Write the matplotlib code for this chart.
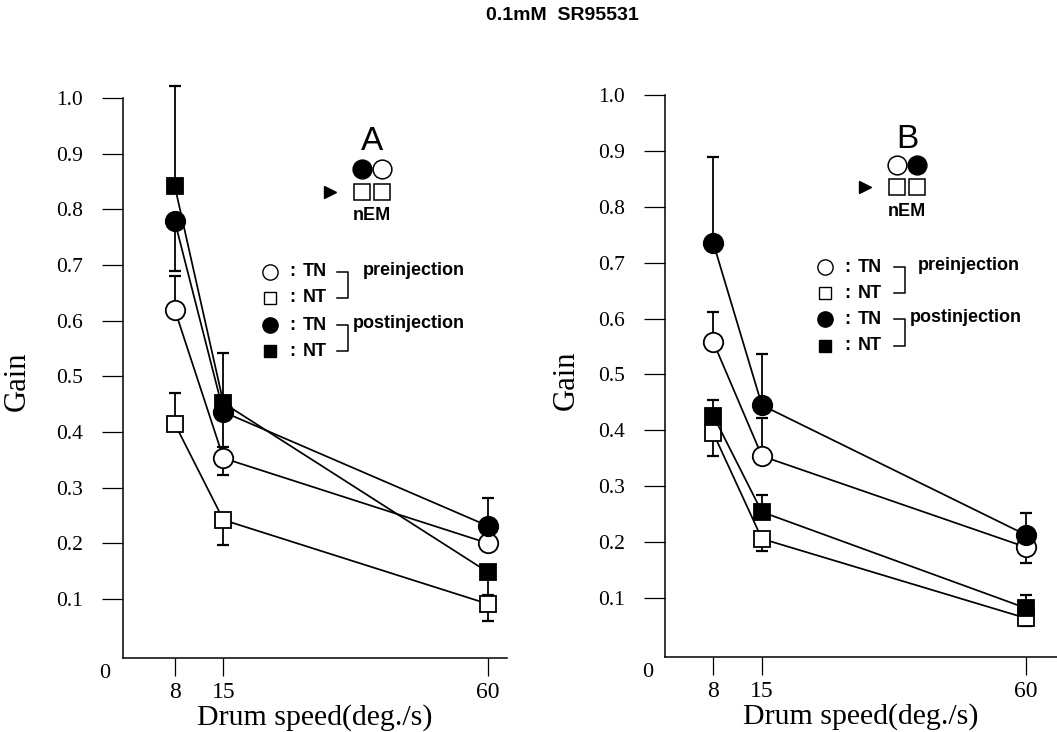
import numpy as np
import matplotlib.pyplot as plt
from matplotlib.lines import Line2D

W, H = 1057, 732

speeds = [8, 15, 60]
gain_ticks = [0.1, 0.2, 0.3, 0.4, 0.5, 0.6, 0.7, 0.8, 0.9, 1.0]

# panel A  (err > 0 : bar drawn upward, err < 0 : downward)
a_pre_tn = [0.620, 0.353, 0.200]
a_pre_tn_err = [0.060, -0.030, 0.0]
a_pre_nt = [0.415, 0.242, 0.091]
a_pre_nt_err = [0.055, -0.045, -0.030]
a_post_tn = [0.779, 0.436, 0.231]
a_post_tn_err = [-0.090, -0.063, 0.050]
a_post_nt = [0.842, 0.452, 0.148]
a_post_nt_err = [0.180, 0.090, -0.040]

# panel B
b_pre_tn = [0.558, 0.354, 0.191]
b_pre_tn_err = [0.054, 0.068, -0.028]
b_pre_nt = [0.395, 0.206, 0.064]
b_pre_nt_err = [-0.041, -0.022, -0.014]
b_post_tn = [0.735, 0.445, 0.213]
b_post_tn_err = [0.154, 0.091, 0.039]
b_post_nt = [0.426, 0.254, 0.082]
b_post_nt_err = [0.028, 0.030, 0.023]

legend_labels = ['TN', 'NT', 'TN', 'NT']
legend_markers = ['o', 's', 'o', 's']
legend_faces = ['white', 'white', 'black', 'black']
group_labels = ['preinjection', 'postinjection']

SERIF = 'Liberation Serif'
SANS = 'Liberation Sans'


def fwd(x):
    x = np.asarray(x, dtype=float)
    return np.where(x <= 15, x, 15 + (x - 15) * 0.845)


def inv(y):
    y = np.asarray(y, dtype=float)
    return np.where(y <= 15, y, 15 + (y - 15) / 0.845)


def fx(px):
    return px / W


def fy(py):
    return 1 - py / H


def draw_series(ax, y, err, marker, face, ms):
    y = np.asarray(y)
    err = np.asarray(err)
    lower = np.where(err < 0, -err, 0)
    upper = np.where(err > 0, err, 0)
    ax.errorbar(speeds, y, yerr=[lower, upper], fmt='none', ecolor='black',
                elinewidth=1.3, capsize=4.5, capthick=1.6, zorder=2, clip_on=False)
    ax.plot(speeds, y, color='black', lw=1.25, marker=marker, ms=ms, mfc=face,
            mec='black', mew=1.3, zorder=3, clip_on=False)


def setup_axes(ax, xlim, ylim):
    ax.set_xscale('function', functions=(fwd, inv))
    ax.set_xlim(*xlim)
    ax.set_ylim(*ylim)
    ax.spines['top'].set_visible(False)
    ax.spines['right'].set_visible(False)
    ax.spines['left'].set_linewidth(1.1)
    ax.spines['bottom'].set_linewidth(1.1)
    ax.set_xticks(speeds)
    ax.set_xticklabels([str(s) for s in speeds])
    ax.set_yticks(gain_ticks)
    ax.set_yticklabels(['%.1f' % t for t in gain_ticks])
    ax.tick_params(axis='y', direction='out', length=15, width=0.9, pad=14,
                   labelsize=15.5)
    ax.tick_params(axis='x', direction='out', length=13, width=0.9, pad=4,
                   labelsize=17)
    for lab in ax.get_xticklabels() + ax.get_yticklabels():
        lab.set_fontfamily(SERIF)
    ax.minorticks_off()


def legend_block(fig, mx, row_y, brk_x, grp_x):
    for i in range(4):
        ms = 11 if legend_markers[i] == 'o' else 9
        fig.add_artist(Line2D([fx(mx)], [fy(row_y[i])], marker=legend_markers[i],
                              ms=ms, mfc=legend_faces[i], mec='black', mew=1.0,
                              ls='none'))
        fig.text(fx(mx + 22), fy(row_y[i]), ':', ha='center', va='center',
                 fontsize=13, fontweight='bold', family=SANS)
        fig.text(fx(mx + 33), fy(row_y[i]), legend_labels[i], ha='left',
                 va='center', fontsize=13, fontweight='bold', family=SANS)
    for g in range(2):
        yt, yb = row_y[2 * g], row_y[2 * g + 1]
        fig.add_artist(Line2D([fx(brk_x), fx(brk_x + 11), fx(brk_x + 11), fx(brk_x)],
                              [fy(yt), fy(yt), fy(yb), fy(yb)],
                              color='black', lw=1.1))
        fig.text(fx(grp_x[g]), fy(yt - 2), group_labels[g], ha='left', va='center',
                 fontsize=13, fontweight='bold', family=SANS)


def inset(fig, letter, cx, y_letter, y_circ, y_sq, y_nem, arrow_x, faces):
    fig.text(fx(cx), fy(y_letter), letter, ha='center', va='center',
             fontsize=24, family=SANS)
    for dx, face in zip([-10, 10], faces):
        fig.add_artist(Line2D([fx(cx + dx)], [fy(y_circ)], marker='o', ms=13.5,
                              mfc=face, mec='black', mew=1.1, ls='none'))
        fig.add_artist(Line2D([fx(cx + dx)], [fy(y_sq)], marker='s', ms=12,
                              mfc='white', mec='black', mew=1.1, ls='none'))
    fig.add_artist(Line2D([fx(arrow_x)], [fy(y_sq)], marker='>', ms=8,
                          mfc='black', mec='black', ls='none'))
    fig.text(fx(cx), fy(y_nem), 'nEM', ha='center', va='center',
             fontsize=13, fontweight='bold', family=SANS)


fig = plt.figure(figsize=(W / 100, H / 100), dpi=100)

# panel A
axA = fig.add_axes([fx(123), fy(658), (507 - 123) / W, (658 - 98) / H])
setup_axes(axA, (0.57, 63.2), (-0.006, 1.0))
draw_series(axA, a_pre_tn, a_pre_tn_err, 'o', 'white', 14)
draw_series(axA, a_pre_nt, a_pre_nt_err, 's', 'white', 11)
draw_series(axA, a_post_nt, a_post_nt_err, 's', 'black', 11)
draw_series(axA, a_post_tn, a_post_tn_err, 'o', 'black', 14)
axA.set_ylabel('Gain', fontsize=22, family=SERIF)
axA.yaxis.set_label_coords(-0.237, 0.495)
axA.set_xlabel('Drum speed(deg./s)', fontsize=21.5, family=SERIF, labelpad=1)
axA.text(-0.047, -0.027, '0', transform=axA.transAxes, ha='center',
         va='center', fontsize=16, family=SERIF)

# panel B
axB = fig.add_axes([fx(665), fy(657), (W - 665) / W, (657 - 95) / H])
setup_axes(axB, (1.04, 65.3), (-0.0055, 1.0))
draw_series(axB, b_pre_tn, b_pre_tn_err, 'o', 'white', 14)
draw_series(axB, b_pre_nt, b_pre_nt_err, 's', 'white', 11)
draw_series(axB, b_post_nt, b_post_nt_err, 's', 'black', 11)
draw_series(axB, b_post_tn, b_post_tn_err, 'o', 'black', 14)
axB.set_ylabel('Gain', fontsize=22, family=SERIF)
axB.yaxis.set_label_coords(-0.215, 0.493)
axB.set_xlabel('Drum speed(deg./s)', fontsize=21.5, family=SERIF, labelpad=1)
axB.text(-0.045, -0.028, '0', transform=axB.transAxes, ha='center',
         va='center', fontsize=16, family=SERIF)

legend_block(fig, 270, [272, 298, 325, 351], 337, [363, 353])
legend_block(fig, 825, [267, 293, 319, 346], 894, [918, 910])

inset(fig, 'A', 372, 142, 169, 192, 216, 330, ['black', 'white'])
inset(fig, 'B', 907, 140, 165, 187, 212, 865, ['white', 'black'])

fig.text(fx(562), fy(15), '0.1mM  SR95531', ha='center', va='center',
         fontsize=14, fontweight='bold', family=SANS)

fig.savefig('out.png', dpi=100)
